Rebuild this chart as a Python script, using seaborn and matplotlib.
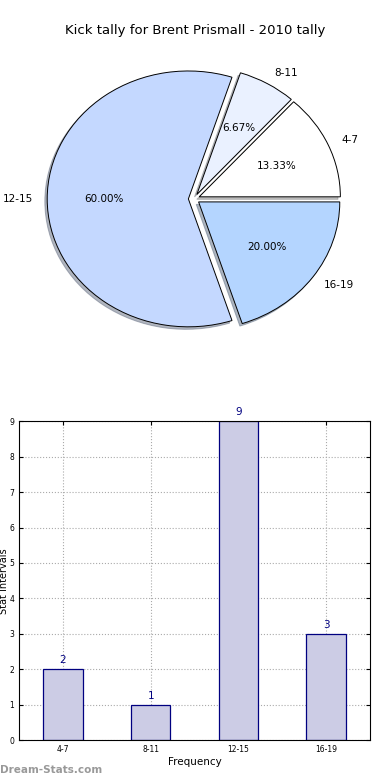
import matplotlib
matplotlib.use("Agg")
import matplotlib.pyplot as plt
import seaborn as sns
import pandas as pd

# data
intervals = ["4-7", "8-11", "12-15", "16-19"]
counts = [2, 1, 9, 3]
pie_colors = ["#FFFFFF", "#EAF1FF", "#C4D8FF", "#B4D5FF"]
title = "Kick tally for Brent Prismall - 2010 tally"

plt.rcParams["font.family"] = ["DejaVu Sans"]

fig = plt.figure(figsize=(3.9, 7.8), dpi=100)

# pie on top
ax1 = fig.add_axes([0.045, 0.540, 0.905, 0.410])
ax1.pie(counts, labels=intervals, colors=pie_colors, explode=[0.04] * 4,
        autopct="%.2f%%", startangle=0,
        shadow={"ox": -0.012, "oy": -0.014, "shade": 0.5},
        wedgeprops=dict(edgecolor="black", linewidth=0.7),
        textprops=dict(fontsize=7.5))
ax1.set_aspect("auto")
ax1.set_xlim(-1.25, 1.25)
ax1.set_ylim(-1.25, 1.25)
fig.text(0.5, 0.961, title, ha="center", va="center", fontsize=9.5)

# bars below
df = pd.DataFrame({"interval": intervals, "count": counts})
ax2 = fig.add_axes([0.049, 0.051, 0.900, 0.409])
sns.barplot(data=df, x="interval", y="count", color="#CCCCE5", width=0.45,
            edgecolor="#000080", linewidth=0.9, saturation=1, ax=ax2)
for i, v in enumerate(counts):
    ax2.text(i, v + 0.12, str(v), ha="center", va="bottom", color="#000080", fontsize=7.5)
ax2.set_xlim(-0.5, 3.5)
ax2.set_ylim(0, 9)
ax2.set_yticks(range(10))
ax2.grid(True, linestyle=":", color="#AAAAAA", linewidth=0.8)
ax2.set_axisbelow(True)
ax2.tick_params(labelsize=5.5, direction="in", top=True, right=True, length=3)
ax2.set_xlabel("Frequency", fontsize=7.5, labelpad=2)
ax2.set_ylabel("Stat Intervals", fontsize=7)
ax2.yaxis.set_label_coords(-0.029, 0.5)
for s in ax2.spines.values():
    s.set_linewidth(0.8)

fig.text(0.0, 0.013, "Dream-Stats.com", color="#999999", fontsize=7.5, fontweight="bold",
         ha="left", va="center")

fig.savefig("out.png", dpi=100)
